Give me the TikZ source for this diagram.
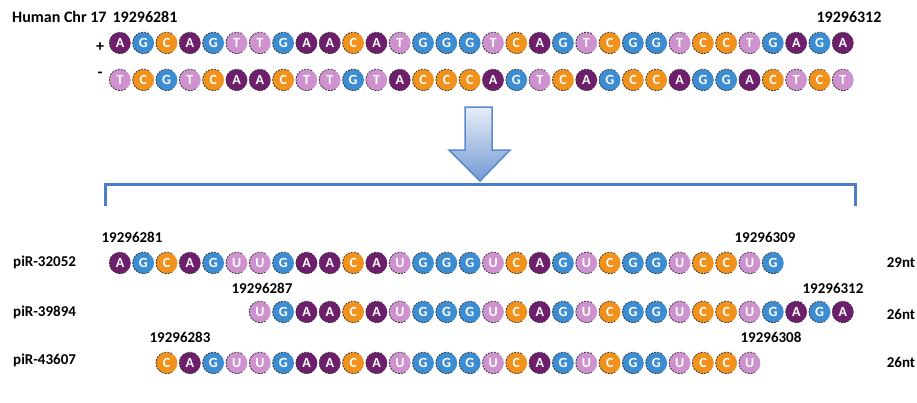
\documentclass[tikz,border=0pt]{standalone}
\usepackage{fontspec}
\setmainfont{Carlito}
\definecolor{ntpurple}{HTML}{6E1F6C}
\definecolor{ntblue}{HTML}{3D8DD2}
\definecolor{ntorange}{HTML}{F0921C}
\definecolor{ntpink}{HTML}{CE92CF}
\definecolor{arrline}{HTML}{5A89CC}
\definecolor{arrtop}{HTML}{E8EEF8}
\definecolor{arrbot}{HTML}{7299D3}
\definecolor{brk}{HTML}{4A7FC7}
\tikzset{
  nt/.style={circle, minimum size=21.5pt, inner sep=0pt, text=white,
    font=\fontsize{14}{16}\selectfont\bfseries},
  ntshadow/.style={draw=black!80, line width=0.8pt, dash pattern=on 1.8pt off 1.3pt},
  bA/.style={fill=ntpurple}, bG/.style={fill=ntblue},
  bC/.style={fill=ntorange}, bT/.style={fill=ntpink}, bU/.style={fill=ntpink},
  lbl/.style={font=\fontsize{15}{18}\selectfont\bfseries, text=black, inner sep=0pt},
  toplbl/.style={font=\fontsize{16}{19}\selectfont\bfseries, text=black, inner sep=0pt},
}
\newcommand\ntrow[4]{%
  \foreach \l [count=\i from #3] in {#4} {
    \node[nt, b\l] (#1\i) at ({120+23.32*\i},#2) {\l};
    \draw[ntshadow] (#1\i.60) arc[start angle=60, end angle=300, radius=10.75pt];
  }}
\begin{document}
\begin{tikzpicture}[x=1pt,y=-1pt]
\useasboundingbox (0,0) rectangle (917,402);
% top genomic strands
\node[toplbl, anchor=west] (chr) at (12,17) {Human Chr 17};
\node[toplbl] (p1) at (145,17) {19296281};
\node[toplbl] (p2) at (849,17) {19296312};
\node[toplbl] (plus) at (100,47) {+};
\node[toplbl] (minus) at (100,75) {-};
\ntrow{top}{43}{0}{A,G,C,A,G,T,T,G,A,A,C,A,T,G,G,G,T,C,A,G,T,C,G,G,T,C,C,T,G,A,G,A}
\ntrow{bot}{80}{0}{T,C,G,T,C,A,A,C,T,T,G,T,A,C,C,C,A,G,T,C,A,G,C,C,A,G,G,A,C,T,C,T}
% arrow
\shade[top color=arrtop, bottom color=arrbot, draw=arrline, line width=1.5pt, line join=miter]
  (465,107) -- (492,107) -- (492,150) -- (510,150) -- (480,181) -- (449,150) -- (465,150) -- cycle;
% bracket
\coordinate (bl) at (105,206);
\coordinate (blt) at (105,184);
\coordinate (brt) at (855,184);
\coordinate (br) at (855,206);
\draw[brk, line width=3pt] (bl) -- (blt) -- (brt) -- (br);
% piRNAs
\node[lbl, anchor=west] (n1) at (13,262) {piR-32052};
\node[lbl, anchor=west] (n2) at (13,312) {piR-39894};
\node[lbl, anchor=west] (n3) at (13,360) {piR-43607};
\node[lbl] (s1) at (132,237) {19296281};
\node[lbl] (e1) at (765,237) {19296309};
\node[lbl] (s2) at (262,288) {19296287};
\node[lbl] (e2) at (833,288) {19296312};
\node[lbl] (s3) at (180,337) {19296283};
\node[lbl] (e3) at (771,337) {19296308};
\node[lbl] (l1) at (901,263) {29nt};
\node[lbl] (l2) at (901,314) {26nt};
\node[lbl] (l3) at (901,362) {26nt};
\ntrow{ra}{263}{0}{A,G,C,A,G,U,U,G,A,A,C,A,U,G,G,G,U,C,A,G,U,C,G,G,U,C,C,U,G}
\ntrow{rb}{312}{6}{U,G,A,A,C,A,U,G,G,G,U,C,A,G,U,C,G,G,U,C,C,U,G,A,G,A}
\ntrow{rc}{363}{2}{C,A,G,U,U,G,A,A,C,A,U,G,G,G,U,C,A,G,U,C,G,G,U,C,C,U}
\end{tikzpicture}
\end{document}
